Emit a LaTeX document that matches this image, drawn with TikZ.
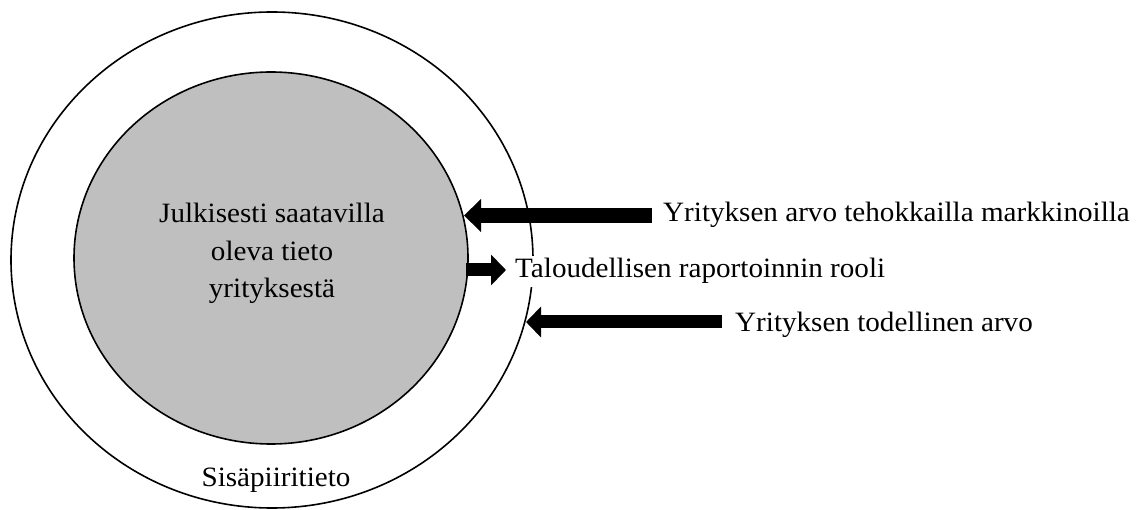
\documentclass[tikz,border=0pt]{standalone}
\usepackage{fontspec}
\setmainfont[FakeStretch=1.04]{Liberation Serif}
\usetikzlibrary{arrows.meta,shapes.geometric}
\definecolor{innergray}{RGB}{191,191,191}
\begin{document}
\begin{tikzpicture}[x=1pt,y=-1pt,
  lbl/.style={font=\fontsize{28}{37.5}\selectfont, inner sep=0pt, anchor=base west},
  bigarrow/.style={line width=15pt, -{Triangle[length=17pt,width=32pt]}},
  midarrow/.style={line width=13pt, -{Triangle[length=15pt,width=30pt]}}]
\useasboundingbox (0,0) rectangle (1145,510);
% circles
\node[draw, line width=1.6pt, ellipse, minimum width=522pt, minimum height=496pt, inner sep=0pt] (outer) at (272,260) {};
\node[draw, line width=1.6pt, ellipse, fill=innergray, minimum width=394pt, minimum height=372pt, inner sep=0pt] (inner) at (271,258) {};
% centre text
\node[font=\fontsize{28}{37.5}\selectfont, align=center, anchor=base, inner sep=0pt] (pub) at (272,298)
  {Julkisesti saatavilla\\oleva tieto\\yrityksestä};
\node[lbl, anchor=base] (insider) at (276,486) {Sisäpiiritieto};
% right labels
\node[lbl] (t1) at (663,222) {Yrityksen arvo tehokkailla markkinoilla};
\node[lbl, fill=white, inner xsep=2pt, inner ysep=3pt] (t2) at (513,278) {Taloudellisen raportoinnin rooli};
\node[lbl] (t3) at (735,331) {Yrityksen todellinen arvo};
% arrow end points
\coordinate (a1s) at (652,215.5);
\coordinate (a1e) at (464,215.5);
\coordinate (a2s) at (466,270);
\coordinate (a2e) at (506,270);
\coordinate (a3s) at (722,322);
\coordinate (a3e) at (526,322);
\draw[bigarrow] (a1s) -- (a1e);
\draw[midarrow] (a2s) -- (a2e);
\draw[midarrow] (a3s) -- (a3e);
\end{tikzpicture}
\end{document}
